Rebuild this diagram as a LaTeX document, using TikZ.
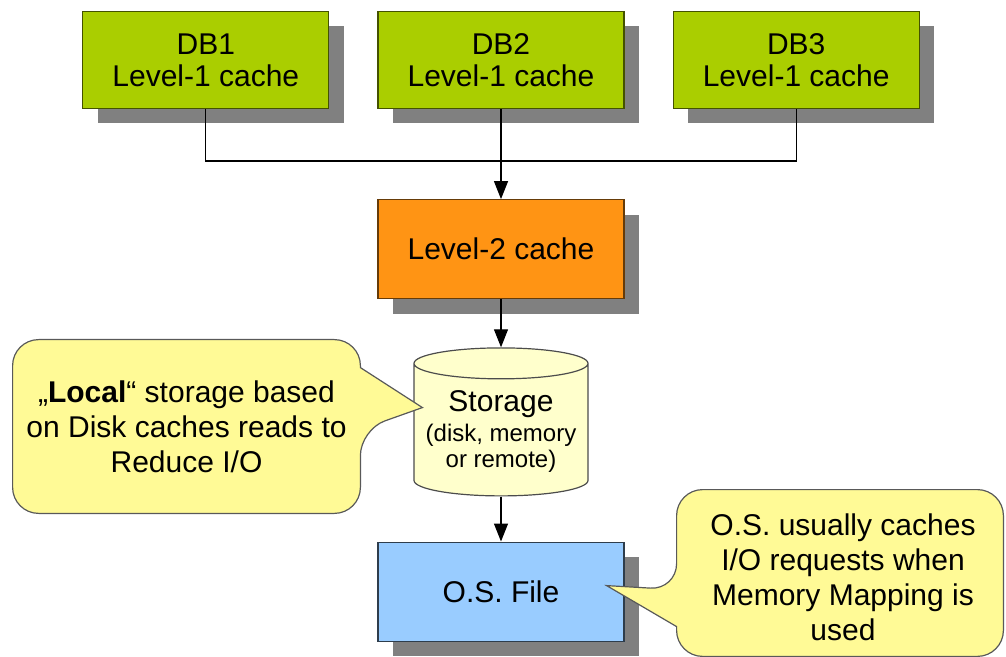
\documentclass[tikz,border=0pt]{standalone}
\usepackage{fontspec}
\setmainfont{Liberation Sans}
\usetikzlibrary{arrows.meta, positioning, shapes.geometric, shadows, calc}

\definecolor{dbgreen}{RGB}{170,206,0}
\definecolor{cacheorange}{RGB}{255,148,20}
\definecolor{fileblue}{RGB}{153,204,255}
\definecolor{storeyellow}{RGB}{255,255,204}
\definecolor{noteyellow}{RGB}{255,250,150}
\definecolor{shadowgray}{RGB}{128,128,128}
\newcommand{\storesmall}{\fontsize{12}{12.5}\selectfont}

\begin{document}
\begin{tikzpicture}[
  node distance=45pt and 24pt,
  font=\fontsize{15}{16}\selectfont,
  box/.style={draw, line width=0.6pt, align=center, minimum width=123pt, minimum height=48.5pt, inner sep=2pt,
    drop shadow={shadow xshift=7.5pt, shadow yshift=-7.5pt, fill=shadowgray, opacity=1}},
  store/.style={draw=black!70, line width=0.6pt, fill=storeyellow, cylinder, shape border rotate=90, aspect=0.2,
    minimum width=87pt, minimum height=74pt, align=center, inner sep=1pt},
  note/.style={align=center, minimum width=173.5pt, minimum height=86.5pt, font=\fontsize{15}{17.5}\selectfont},
  bubble/.style={draw=black!65, line width=0.6pt, fill=noteyellow},
  arr/.style={line width=0.6pt, -{Triangle[length=9pt, width=7pt]}},
  link/.style={line width=0.6pt}
]
\useasboundingbox (0,0) rectangle (503pt,-328.5pt);
\clip (0,0) rectangle (503pt,-328.5pt);

% level-1 caches
\node[box, fill=dbgreen, draw=dbgreen!40!black] (db2) at (250.5pt,-30pt) {DB2\\Level-1 cache};
\node[box, fill=dbgreen, draw=dbgreen!40!black, left=of db2] (db1) {DB1\\Level-1 cache};
\node[box, fill=dbgreen, draw=dbgreen!40!black, right=of db2] (db3) {DB3\\Level-1 cache};

% level-2 cache, storage, file
\node[box, fill=cacheorange, draw=cacheorange!40!black, below=45pt of db2, minimum height=49.5pt] (l2) {Level-2 cache};
\node[store, below=24pt of l2] (stor) {Storage\\[-1pt]{\storesmall (disk, memory}\\[-3pt]{\storesmall or remote)}};
\node[box, fill=fileblue, draw=fileblue!30!black, below=22.5pt of stor, minimum height=49.5pt] (os) {O.S. File};

\coordinate[below=26pt of db2.south] (bus);
\draw[link] (db1.south) |- (bus) -| (db3.south);
\draw[arr] (db2.south) -- (l2.north);
\draw[arr] (l2.south) -- (stor.north);
\draw[arr] (stor.south) -- (os.north);

% callouts
\node[note] (localnote) at (93.25pt,-213.25pt) {};
\coordinate (localtip) at ($(stor.west)+(4.5pt,12pt)$);
\path[bubble] ([yshift=-14pt]localnote.north east) [rounded corners=13pt] -- (localnote.north east) -- (localnote.north west)
  -- (localnote.south west) -- (localnote.south east) -- ([yshift=-45pt]localnote.north east) [sharp corners] -- (localtip) -- cycle;
\node[note] at (localnote) {„\textbf{Local}“ storage based\\on Disk caches reads to\\Reduce I/O};

\node[note, minimum width=163pt, minimum height=83pt] (osnote) at (420pt,-286.5pt) {};
\coordinate (ostip) at ($(os.east)+(-9pt,3pt)$);
\path[bubble] ([yshift=-68.5pt]osnote.north west) [rounded corners=13pt] -- (osnote.south west) -- (osnote.south east)
  -- (osnote.north east) -- (osnote.north west) -- ([yshift=-50pt]osnote.north west) [sharp corners] -- (ostip) -- cycle;
\node[note, minimum width=163pt, minimum height=83pt] at ([xshift=1.5pt,yshift=-2pt]osnote.center) {O.S. usually caches\\I/O requests when\\Memory Mapping is\\used};
\end{tikzpicture}
\end{document}
